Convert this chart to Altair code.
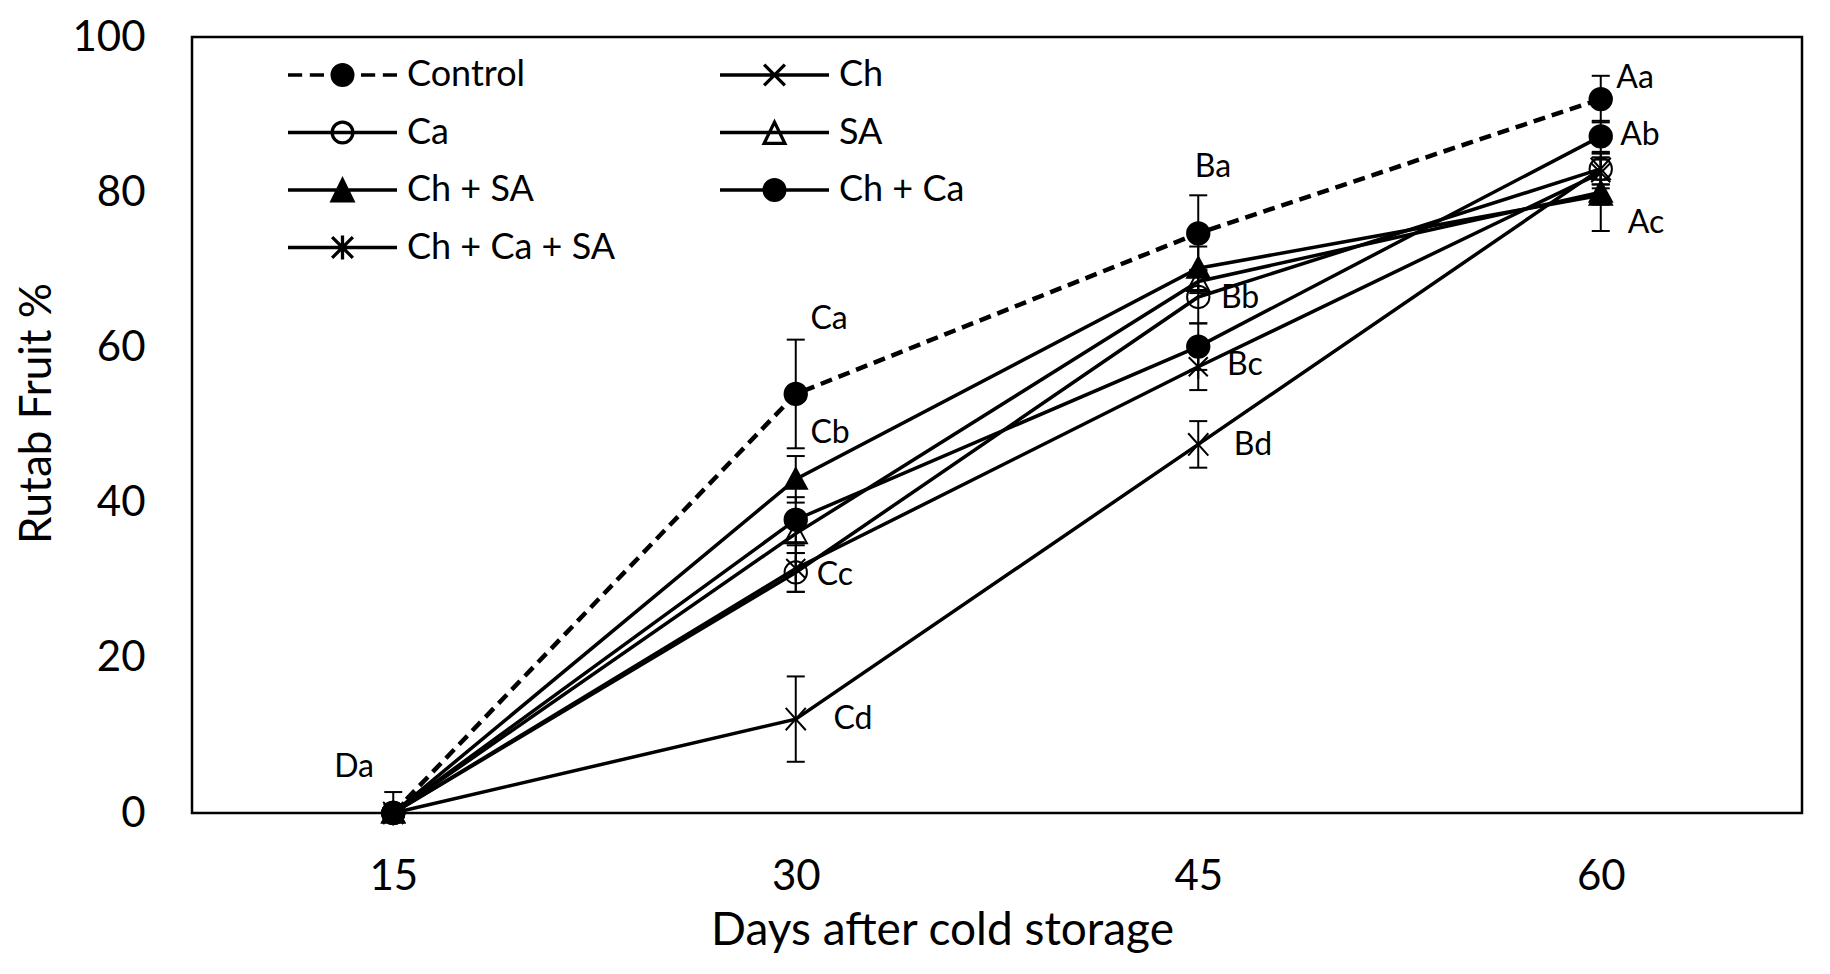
import altair as alt
import pandas as pd

# ---------------- data ----------------
days = [15, 30, 45, 60]
series_names = ["Control", "Ch", "Ca", "SA", "Ch + SA", "Ch + Ca", "Ch + Ca + SA"]

control_vals = [0, 54.0, 74.7, 92.0]
ch_vals = [0, 12.1, 47.5, 83.0]
ca_vals = [0, 31.0, 66.5, 83.0]
sa_vals = [0, 36.0, 68.5, 80.0]
ch_sa_vals = [0, 43.0, 70.2, 79.6]
ch_ca_vals = [0, 37.8, 60.1, 87.2]
ch_ca_sa_vals = [0, 31.5, 57.5, 82.5]

control_err = [2.7, 7.0, 4.9, 3.0]
ch_err = [0, 5.5, 3.0, 2.0]
ca_err = [0, 2.5, 3.4, 2.0]
sa_err = [0, 2.5, 1.5, 1.6]
ch_sa_err = [0, 3.0, 2.8, 4.6]
ch_ca_err = [0, 2.9, 3.0, 2.0]
ch_ca_sa_err = [0, 3.0, 3.0, 2.0]

letter_text = ["Da", "Ca", "Cb", "Cc", "Cd", "Ba", "Bb", "Bc", "Bd", "Aa", "Ab", "Ac"]
letter_day = [13.54, 31.24, 31.28, 31.46, 32.13, 45.55, 46.56, 46.74, 47.04, 61.28, 61.46, 61.69]
letter_val = [5.9, 63.7, 49.0, 30.7, 12.1, 83.3, 66.4, 57.7, 47.4, 94.7, 87.4, 76.0]

x_ticks = [15, 30, 45, 60]
y_ticks = [0, 20, 40, 60, 80, 100]

all_vals = [control_vals, ch_vals, ca_vals, sa_vals, ch_sa_vals, ch_ca_vals, ch_ca_sa_vals]
all_errs = [control_err, ch_err, ca_err, sa_err, ch_sa_err, ch_ca_err, ch_ca_sa_err]

rows = []
for name, vals, errs in zip(series_names, all_vals, all_errs):
    for d, v, e in zip(days, vals, errs):
        rows.append({"series": name, "day": d, "value": v, "err": e,
                     "lo": v - e, "hi": v + e})
df = pd.DataFrame(rows)
err_df = df[df["err"] > 0]
lab_df = pd.DataFrame({"text": letter_text, "day": letter_day, "value": letter_val})

# ---------------- styles ----------------
FONT = "Lato"
X_PATH = "M-0.9,-1L0.9,1M-0.9,1L0.9,-1"
TRI_PATH = "M0,-1L1,0.85L-1,0.85Z"
AST_PATH = "M-0.85,-0.85L0.85,0.85M-0.85,0.85L0.85,-0.85M0,-1.1V1.1"
marker_shapes = ["circle", X_PATH, "circle", TRI_PATH, TRI_PATH, "circle", AST_PATH]
marker_fills = ["black", "transparent", "transparent", "transparent", "black", "black", "transparent"]

r = 0.19
CIRC = f"M{-r},0A{r},{r} 0 1,0 {r},0A{r},{r} 0 1,0 {-r},0Z"
LINE = "M-1,0H1"
DASHED = "M-1,0H-0.74M-0.6,0H-0.34M0.34,0H0.6M0.74,0H1"
LX = f"M{-r},{-r}L{r},{r}M{-r},{r}L{r},{-r}"
LTRI = f"M0,{-r}L{r},{r+0.01}L{-r},{r+0.01}Z"
LAST = f"M{-r},{-r}L{r},{r}M{-r},{r}L{r},{-r}M0,-0.22V0.22"
legend_order = ["Control", "Ca", "Ch + SA", "Ch + Ca + SA", "Ch", "SA", "Ch + Ca"]
legend_paths = [DASHED + CIRC, LINE + CIRC, LINE + LTRI, LINE + LAST, LINE + LX, LINE + LTRI, LINE + CIRC]
legend_fills = ["black", "transparent", "black", "transparent", "transparent", "transparent", "black"]
legend_strokes = ["black"] * 7

x_enc = alt.X("day:Q",
              scale=alt.Scale(domain=[7.5, 67.5], nice=False, zero=False),
              axis=alt.Axis(values=x_ticks, title="Days after cold storage", grid=False,
                            ticks=False, domain=False, labelFont=FONT, labelFontSize=42,
                            labelColor="black", labelPadding=63, labelBaseline="middle",
                            labelFlush=False, titleFont=FONT, titleFontSize=46,
                            titleFontWeight="normal", titleColor="black", titleX=750,
                            titleY=117, titleBaseline="middle", titleAlign="center"))
y_enc = alt.Y("value:Q",
              scale=alt.Scale(domain=[0, 100], nice=False),
              axis=alt.Axis(values=y_ticks, title="Rutab Fruit %", grid=False, ticks=False,
                            domain=False, labelFont=FONT, labelFontSize=42, labelColor="black",
                            labelPadding=47, labelFlush=False, titleFont=FONT,
                            titleFontSize=44, titleFontWeight="normal", titleColor="black",
                            titleAngle=270, titleX=-155, titleY=376,
                            titleBaseline="middle", titleAlign="center"))

base = alt.Chart(df)

line_control = base.transform_filter(alt.datum.series == "Control").mark_line(
    color="black", strokeWidth=4.5, strokeDash=[12, 7]
).encode(x=x_enc, y=y_enc)

line_other = base.transform_filter(alt.datum.series != "Control").mark_line(
    color="black", strokeWidth=3.5
).encode(x="day:Q", y="value:Q", detail="series:N")

err_base = alt.Chart(err_df)
err_rule = err_base.mark_rule(color="black", strokeWidth=2, clip=True).encode(
    x="day:Q", y="lo:Q", y2="hi:Q")
err_hi = err_base.mark_tick(color="black", orient="horizontal", size=18, thickness=2,
                            clip=True, opacity=1).encode(x="day:Q", y="hi:Q")
err_lo = err_base.mark_tick(color="black", orient="horizontal", size=18, thickness=2,
                            clip=True, opacity=1).encode(x="day:Q", y="lo:Q")

points = base.mark_point(filled=True, stroke="black", strokeWidth=2, size=500,
                         opacity=1).encode(
    x="day:Q", y="value:Q",
    shape=alt.Shape("series:N", scale=alt.Scale(domain=series_names, range=marker_shapes),
                    legend=None),
    fill=alt.Fill("series:N", scale=alt.Scale(domain=series_names, range=marker_fills),
                  legend=None),
)

leg = alt.Legend(title=None, orient="none", legendX=94, legendY=18, direction="vertical",
                 columns=2, columnPadding=102, rowPadding=17.5, symbolSize=11881,
                 symbolStrokeWidth=3.3, symbolOpacity=1,
                 labelFont=FONT, labelFontSize=36, labelColor="black", labelOffset=8,
                 labelLimit=600, clipHeight=40, padding=0)

legend_layer = base.transform_filter(alt.datum.day < 0).mark_point(
    filled=True, strokeWidth=3).encode(
    x="day:Q", y="value:Q",
    shape=alt.Shape("series:N", scale=alt.Scale(domain=legend_order, range=legend_paths),
                    legend=leg),
    fill=alt.Fill("series:N", scale=alt.Scale(domain=legend_order, range=legend_fills),
                  legend=leg),
    stroke=alt.Stroke("series:N", scale=alt.Scale(domain=legend_order, range=legend_strokes),
                      legend=leg),
)

labels = alt.Chart(lab_df).mark_text(font=FONT, fontSize=32, color="black",
                                     align="center", baseline="middle").encode(
    x="day:Q", y="value:Q", text="text:N")

chart = alt.layer(
    line_control, line_other, err_rule, err_hi, err_lo, points, legend_layer, labels
).resolve_scale(shape="independent", fill="independent", stroke="independent").properties(
    width=1610, height=776,
    autosize=alt.AutoSizeParams(type="none"),
    padding={"left": 184, "top": 29, "right": 20, "bottom": 150},
    background="white",
).configure_view(stroke="black", strokeWidth=2.5)

chart.save("out.html", embed_options={"renderer": "svg", "actions": False})
